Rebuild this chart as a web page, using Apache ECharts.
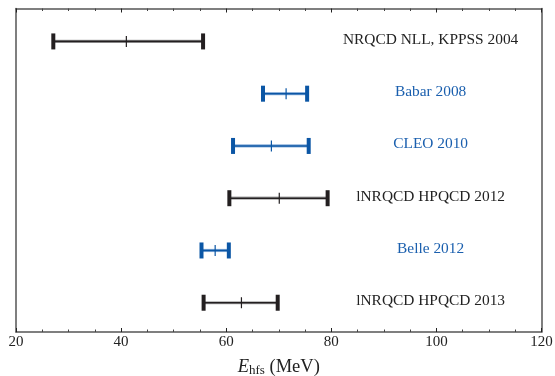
<!DOCTYPE html>
<html><head><meta charset="utf-8">
<script src="https://cdn.jsdelivr.net/npm/echarts@6/dist/echarts.min.js"></script>
<style>html,body{margin:0;padding:0;background:#fff}#c{width:555px;height:376px}</style>
</head><body><div id="c"></div>
<script>
const labels = ['NRQCD NLL, KPPSS 2004','Babar 2008','CLEO 2010','lNRQCD HPQCD 2012','Belle 2012','lNRQCD HPQCD 2013'];
const centers = [41.0, 71.4, 68.6, 70.1, 57.9, 62.9];
const lows    = [27.1, 67.0, 61.3, 60.6, 55.3, 55.7];
const highs   = [55.6, 75.4, 75.7, 79.3, 60.5, 69.8];
const kinds   = ['theory','exp','exp','theory','exp','theory'];
const rows    = [6, 5, 4, 3, 2, 1];
const labelX  = 98.9;
const xTicks  = [20, 40, 60, 80, 100, 120];

const colors = {theory:{main:'#231f20', glow:'#a8a8a8'}, exp:{main:'#0b56a5', glow:'#8fb3dc'}};
const data = labels.map((l,i)=>[lows[i], highs[i], centers[i], rows[i], i]);

const chart = echarts.init(document.getElementById('c'), null, {renderer:'canvas'});
const axisCol = '#555';
chart.setOption({
  animation:false,
  grid:{left:16, right:13.5, top:8.5, bottom:44, containLabel:false, outerBoundsMode:'none'},
  xAxis:[{
    type:'value', min:20, max:120, interval:20, position:'bottom',
    axisLine:{show:true, lineStyle:{color:axisCol, width:1.5}},
    axisTick:{show:true, inside:true, length:4, lineStyle:{color:'#222', width:1}},
    minorTick:{show:true, splitNumber:4, length:2.5, lineStyle:{color:'#444', width:1}},
    splitLine:{show:false},
    axisLabel:{color:'#222', fontFamily:'Liberation Serif', fontSize:15, margin:3},
    name:'{i|E}{s|hfs}{n| (MeV)}', nameLocation:'middle', nameGap:24,
    nameTextStyle:{
      rich:{
        i:{fontFamily:'Liberation Serif', fontStyle:'italic', fontSize:18.5, color:'#222', lineHeight:22},
        s:{fontFamily:'Liberation Serif', fontSize:13, color:'#222', lineHeight:22, padding:[7,0,0,0]},
        n:{fontFamily:'Liberation Serif', fontSize:18.5, color:'#222', lineHeight:22}
      }
    }
  },{
    type:'value', min:20, max:120, interval:20, position:'top',
    axisLine:{show:true, lineStyle:{color:axisCol, width:1.5}},
    axisTick:{show:true, inside:true, length:4, lineStyle:{color:'#222', width:1}},
    minorTick:{show:true, splitNumber:4, length:2.5, lineStyle:{color:'#444', width:1}},
    splitLine:{show:false}, axisLabel:{show:false}
  }],
  yAxis:[{
    type:'value', min:0.44, max:6.63, position:'left',
    axisLine:{show:true, lineStyle:{color:axisCol, width:1.5}},
    axisTick:{show:false}, axisLabel:{show:false}, splitLine:{show:false}
  },{
    type:'value', min:0.44, max:6.63, position:'right',
    axisLine:{show:true, lineStyle:{color:axisCol, width:1.5}},
    axisTick:{show:false}, axisLabel:{show:false}, splitLine:{show:false}
  }],
  series:[{
    type:'custom',
    data:data,
    renderItem:function(params, api){
      const lo = api.value(0), hi = api.value(1), c = api.value(2), y = api.value(3), idx = api.value(4);
      const col = colors[kinds[idx]];
      const pL = api.coord([lo, y]), pH = api.coord([hi, y]), pC = api.coord([c, y]);
      const pT = api.coord([labelX, y]);
      const capH = 16, capW = 4, cenH = 11;
      return {type:'group', children:[
        {type:'line', shape:{x1:pL[0], y1:pL[1], x2:pH[0], y2:pH[1]}, style:{stroke:col.glow, lineWidth:3.2}},
        {type:'line', shape:{x1:pL[0], y1:pL[1], x2:pH[0], y2:pH[1]}, style:{stroke:col.main, lineWidth:1.6}},
        {type:'rect', shape:{x:pL[0]-capW/2, y:pL[1]-capH/2, width:capW, height:capH}, style:{fill:col.main}},
        {type:'rect', shape:{x:pH[0]-capW/2, y:pH[1]-capH/2, width:capW, height:capH}, style:{fill:col.main}},
        {type:'line', shape:{x1:pC[0], y1:pC[1]-cenH/2, x2:pC[0], y2:pC[1]+cenH/2}, style:{stroke:col.main, lineWidth:1.2}},
        {type:'text', x:pT[0], y:pT[1]-1.5, style:{text:labels[idx], fill:kinds[idx]==='exp'?'#1a5fae':'#222',
          font:'15.4px "Liberation Serif"', textAlign:'center', textVerticalAlign:'middle'}}
      ]};
    }
  }]
});
</script></body></html>
